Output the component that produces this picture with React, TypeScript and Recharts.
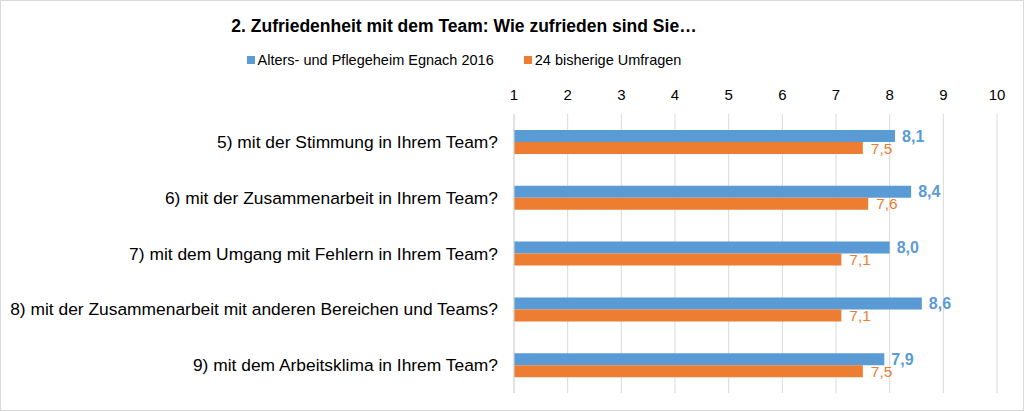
import React, {FC} from "react";
import {Bar, BarChart, CartesianGrid, LabelList, XAxis, YAxis} from 'recharts';

const questions = [
  '5) mit der Stimmung in Ihrem Team?',
  '6) mit der Zusammenarbeit in Ihrem Team?',
  '7) mit dem Umgang mit Fehlern in Ihrem Team?',
  '8) mit der Zusammenarbeit mit anderen Bereichen und Teams?',
  '9) mit dem Arbeitsklima in Ihrem Team?',
];
const egnach2016 = [8.1, 8.4, 8.0, 8.6, 7.9];
const bisherige = [7.5, 7.6, 7.1, 7.1, 7.5];
const ticks = [1, 2, 3, 4, 5, 6, 7, 8, 9, 10];

const series = [
  {key: 'a', name: 'Alters- und Pflegeheim Egnach 2016', color: '#5B9BD5'},
  {key: 'b', name: '24 bisherige Umfragen', color: '#ED7D31'},
];

const data = questions.map((q, i) => ({name: q, a: egnach2016[i], b: bisherige[i]}));

const font = '"Liberation Sans", Arial, sans-serif';
const fmt = (v: any) => Number(v).toFixed(1).replace('.', ',');

const App: FC = () => {
  return (
    <div style={{position: 'absolute', left: 0, top: 0, width: 1022, height: 409, border: '1px solid #d9d9d9', background: '#fff', fontFamily: font}}>
      <div style={{position: 'absolute', left: 0, width: 926, top: 15, textAlign: 'center', fontSize: 17.5, fontWeight: 'bold', color: '#000'}}>
        2. Zufriedenheit mit dem Team: Wie zufrieden sind Sie…
      </div>
      <div style={{position: 'absolute', left: 0, width: 926, top: 51, display: 'flex', justifyContent: 'center', fontSize: 14.5, color: '#000'}}>
        {series.map((s, i) => (
          <div key={s.key} style={{display: 'flex', alignItems: 'center', marginRight: i === 0 ? 30 : 0}}>
            <span style={{display: 'inline-block', width: 8, height: 8, background: s.color, marginRight: 3}} />
            <span>{s.name}</span>
          </div>
        ))}
      </div>
      <BarChart
        width={1022}
        height={409}
        data={data}
        layout="vertical"
        margin={{top: 93, right: 26, bottom: 17, left: 0}}
        barSize={12}
        barGap={0}
      >
        <CartesianGrid horizontal={false} stroke="#d9d9d9" />
        <XAxis
          type="number"
          orientation="top"
          domain={[1, 10]}
          ticks={ticks}
          interval={0}
          height={20}
          axisLine={false}
          tickLine={false}
          tickSize={0}
          tickMargin={14}
          tick={{fill: '#000', fontSize: 15, fontFamily: font}}
        />
        <YAxis
          type="category"
          dataKey="name"
          width={513}
          axisLine={{stroke: '#d9d9d9'}}
          tickLine={false}
          tickSize={0}
          tickMargin={16}
          interval={0}
          tick={{fill: '#000', fontSize: 17.4, fontFamily: font}}
        />
        <Bar dataKey="a" name={series[0].name} fill={series[0].color} isAnimationActive={false}>
          <LabelList dataKey="a" position="right" offset={7} formatter={fmt}
                     style={{fill: series[0].color, fontSize: 16, fontWeight: 'bold', fontFamily: font}} />
        </Bar>
        <Bar dataKey="b" name={series[1].name} fill={series[1].color} isAnimationActive={false}>
          <LabelList dataKey="b" position="right" offset={8} formatter={fmt}
                     style={{fill: series[1].color, fontSize: 15.5, fontFamily: font}} />
        </Bar>
      </BarChart>
    </div>
  );
}

export default App;
